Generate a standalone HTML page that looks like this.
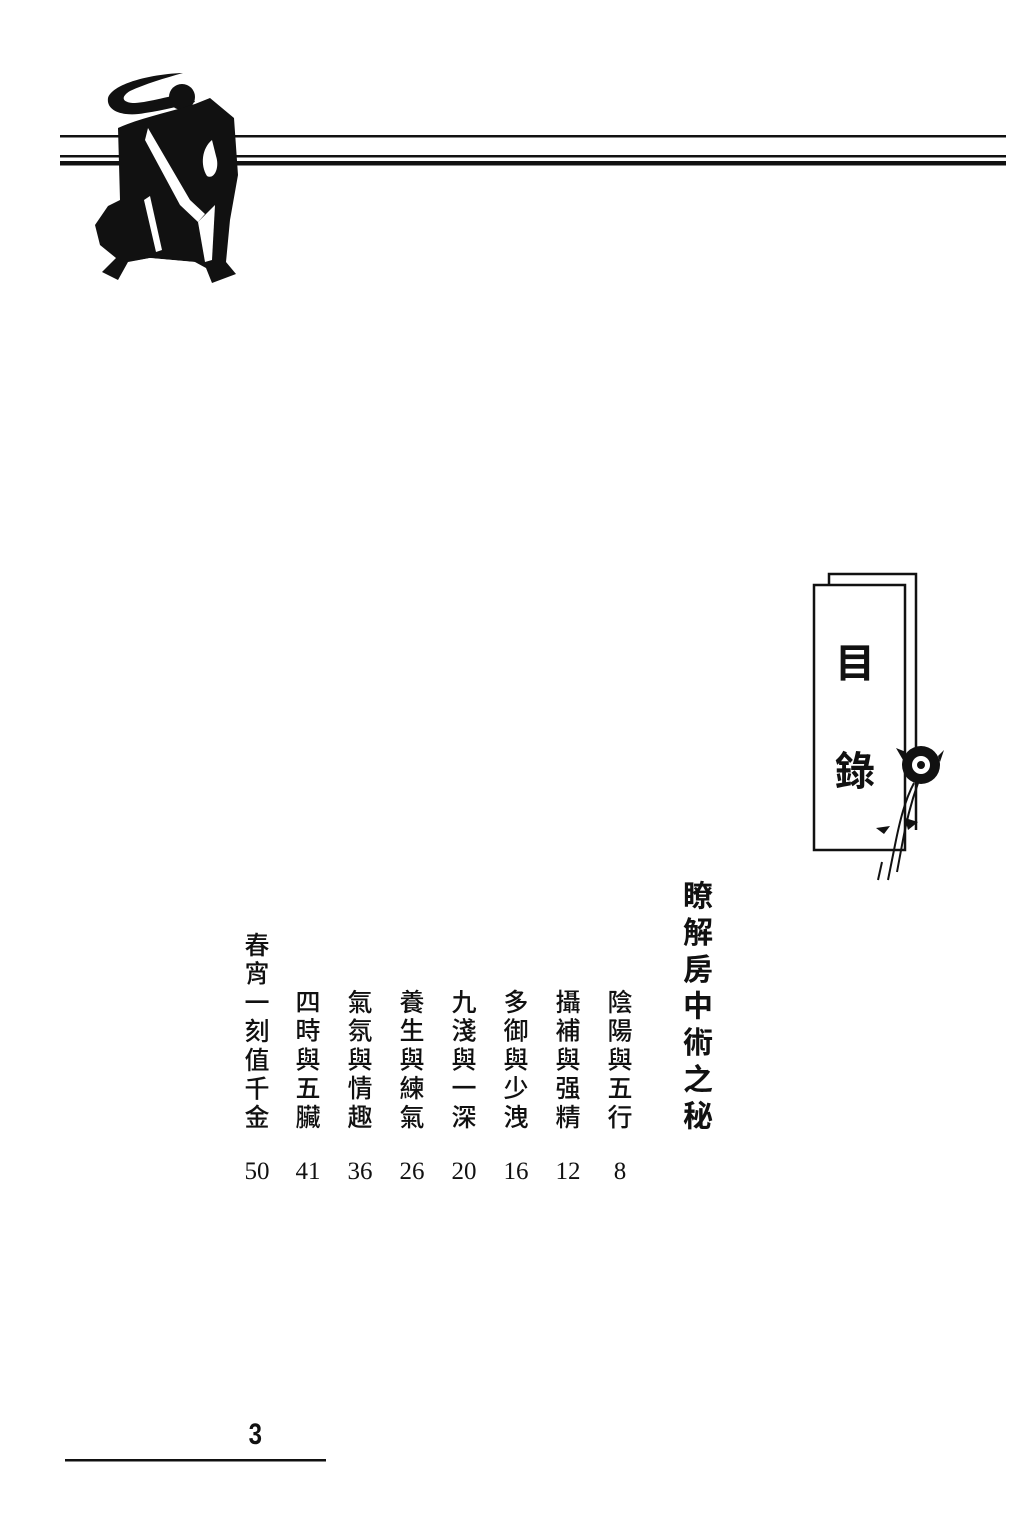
<!DOCTYPE html>
<html><head><meta charset="utf-8"><style>
html,body{margin:0;padding:0;background:#fff;}
body{width:1018px;height:1526px;position:relative;overflow:hidden;font-family:"Liberation Serif","Noto Serif CJK SC","Noto Sans CJK TC",serif;color:#111;}
.col{position:absolute;writing-mode:vertical-rl;font-size:25px;letter-spacing:3.7px;line-height:25px;font-family:"Noto Sans CJK TC","Noto Sans CJK SC",sans-serif;font-weight:500;}
.num{position:absolute;font-size:25px;top:1158px;font-family:"Liberation Serif",serif;transform:translateX(-50%);}
</style></head><body>
<svg width="1018" height="1526" style="position:absolute;left:0;top:0">
 <rect x="60" y="135" width="946" height="2.5" fill="#111"/>
 <rect x="60" y="155" width="946" height="2.5" fill="#111"/>
 <rect x="60" y="161" width="946" height="4.5" fill="#111"/>
 <g fill="#111">
  <path d="M183 73 C150 74 112 84 108 98 C106 112 125 117 145 113 C165 110 180 106 195 102 L190 92 C170 96 150 102 135 103 C122 103 120 97 130 91 C145 84 165 78 183 73Z"/>
  <circle cx="182" cy="97" r="13"/>
  <path d="M118 128 C140 118 170 112 195 104 L210 98 L234 118 L238 175 L230 220 L226 262 L236 274 L212 283 L206 268 L195 262 L150 258 L128 262 L118 280 L102 272 L116 258 L100 245 L95 225 L108 206 L120 200 Z"/>
 </g>
 <g fill="#fff">
  <path d="M148 128 L190 200 L205 214 L198 222 L180 205 L145 140 Z"/>
  <path d="M212 140 C202 148 200 165 207 176 C214 180 220 168 216 156 Z"/>
  <path d="M150 196 L162 250 L156 252 L144 200 Z"/>
  <path d="M198 222 L215 205 L212 260 L205 262 Z"/>
  <path d="M130 262 L150 258 L195 262 L180 266 Z"/>
 </g>
 <path d="M829 584 L829 574 L916 574 L916 830" fill="none" stroke="#111" stroke-width="2.5"/>
 <rect x="814" y="585" width="91" height="265" fill="#fff" stroke="#111" stroke-width="2.5"/>
 <g fill="#111">
  <circle cx="921" cy="765" r="19"/>
  <circle cx="921" cy="765" r="9" fill="#fff"/>
  <circle cx="921" cy="765" r="4"/>
  <path d="M903 760 L896 748 L906 752Z"/>
  <path d="M938 756 L944 750 L940 762Z"/>
 </g>
 <g stroke="#111" stroke-width="2" fill="none">
  <path d="M914 783 C905 800 900 820 895 845 L888 880"/>
  <path d="M918 783 C912 800 906 822 902 845 L897 872"/>
  <path d="M882 862 L878 880"/>
 </g>
 <path d="M876 828 L890 826 L884 834Z M905 818 L918 822 L908 830Z" fill="#111"/>
 <rect x="65" y="1459" width="261" height="2.5" fill="#111"/>
</svg>
<div style="position:absolute;left:835px;top:640px;font-size:40px;line-height:40px;font-weight:bold;font-family:'Noto Sans CJK TC',sans-serif;">目</div>
<div style="position:absolute;left:835px;top:748px;font-size:40px;line-height:40px;font-weight:bold;font-family:'Noto Sans CJK TC',sans-serif;">錄</div>

<div class="col" style="left:683px;top:880px;font-size:30px;line-height:30px;letter-spacing:6.7px;font-weight:bold;">瞭解房中術之秘</div>
<div class="col" style="left:607px;top:989px;">陰陽與五行</div>
<div class="col" style="left:555px;top:989px;">攝補與强精</div>
<div class="col" style="left:503px;top:989px;">多御與少洩</div>
<div class="col" style="left:451px;top:989px;">九淺與一深</div>
<div class="col" style="left:399px;top:989px;">養生與練氣</div>
<div class="col" style="left:347px;top:989px;">氣氛與情趣</div>
<div class="col" style="left:295px;top:989px;">四時與五臟</div>
<div class="col" style="left:244px;top:932px;">春宵一刻值千金</div>

<div class="num" style="left:620px;">8</div>
<div class="num" style="left:568px;">12</div>
<div class="num" style="left:516px;">16</div>
<div class="num" style="left:464px;">20</div>
<div class="num" style="left:412px;">26</div>
<div class="num" style="left:360px;">36</div>
<div class="num" style="left:308px;">41</div>
<div class="num" style="left:257px;">50</div>

<div style="position:absolute;left:247px;top:1418px;font-size:30px;font-weight:bold;font-family:'Liberation Sans',sans-serif;transform:scaleX(0.8);">3</div>
</body></html>
